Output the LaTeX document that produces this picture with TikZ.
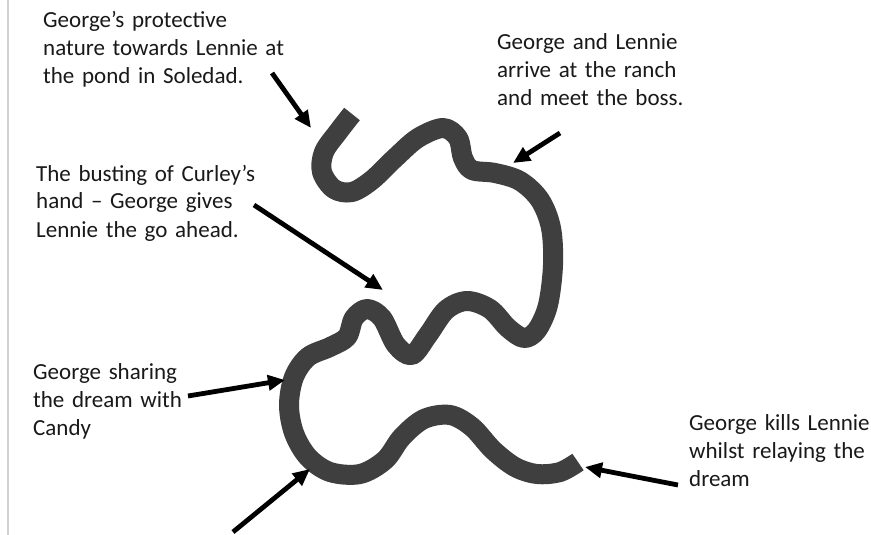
\documentclass[tikz,border=0pt]{standalone}
\usepackage{fontspec}
\setmainfont{Carlito}
\usetikzlibrary{arrows.meta}
\definecolor{snake}{HTML}{3F3F3F}
\begin{document}
\begin{tikzpicture}[x=1pt,y=-1pt,
  lbl/.style={anchor=base west, inner sep=0pt, text width=300pt, align=left,
    font=\fontsize{23}{28}\selectfont, text=black!90},
  pointer/.style={line width=4.8pt, -{Triangle[length=17pt,width=15pt]}},
  snakeline/.style={line width=20pt, draw=snake, line cap=butt, line join=round}]
\useasboundingbox (0,0) rectangle (871,535);
\fill[white] (0,0) rectangle (871,535);
\draw[line width=1.5pt, black!18] (8,0) -- (8,535);

% the plot line
\draw[snakeline] plot[smooth, tension=0.55] coordinates {
 (352,114) (338,132) (324,152) (322,172) (334,189) (352,192) (372,180)
 (395,158) (418,138) (443,128) (458,138) (463,158) (472,170) (495,173)
 (520,181) (540,200) (551,228) (553,265) (548,305) (537,330) (524,338)
 (508,328) (490,309) (467,301) (446,310) (428,335) (412,355) (396,345)
 (382,318) (367,309) (354,318) (347,337) (330,347) (308,357) (294,377)
 (289,405) (294,433) (308,457) (330,472) (360,474) (385,460) (402,437)
 (424,419) (450,415) (472,427) (493,450) (515,467) (537,474) (560,472)
 (578,462)};

% labels
\node[lbl] (l1) at (43,28) {George’s protective\\nature towards Lennie at\\the pond in Soledad.};
\node[lbl] (l2) at (497,50) {George and Lennie\\arrive at the ranch\\and meet the boss.};
\node[lbl] (l3) at (36,181) {The busting of Curley’s\\hand – George gives\\Lennie the go ahead.};
\node[lbl] (l4) at (33,379) {George sharing\\the dream with\\Candy};
\node[lbl] (l5) at (689,430) {George kills Lennie\\whilst relaying the\\dream};

% arrow ends
\coordinate (t1) at (272,73);  \coordinate (h1) at (311,128);
\coordinate (t2) at (560,133); \coordinate (h2) at (513,163);
\coordinate (t3) at (254,205); \coordinate (h3) at (383,290);
\coordinate (t4) at (188,396); \coordinate (h4) at (285,380);
\coordinate (t5) at (233,532); \coordinate (h5) at (310,469);
\coordinate (t6) at (678,485); \coordinate (h6) at (585,467);

\draw[pointer] (t1) -- (h1);
\draw[pointer] (t2) -- (h2);
\draw[pointer] (t3) -- (h3);
\draw[pointer] (t4) -- (h4);
\draw[pointer] (t5) -- (h5);
\draw[pointer] (t6) -- (h6);
\end{tikzpicture}
\end{document}
